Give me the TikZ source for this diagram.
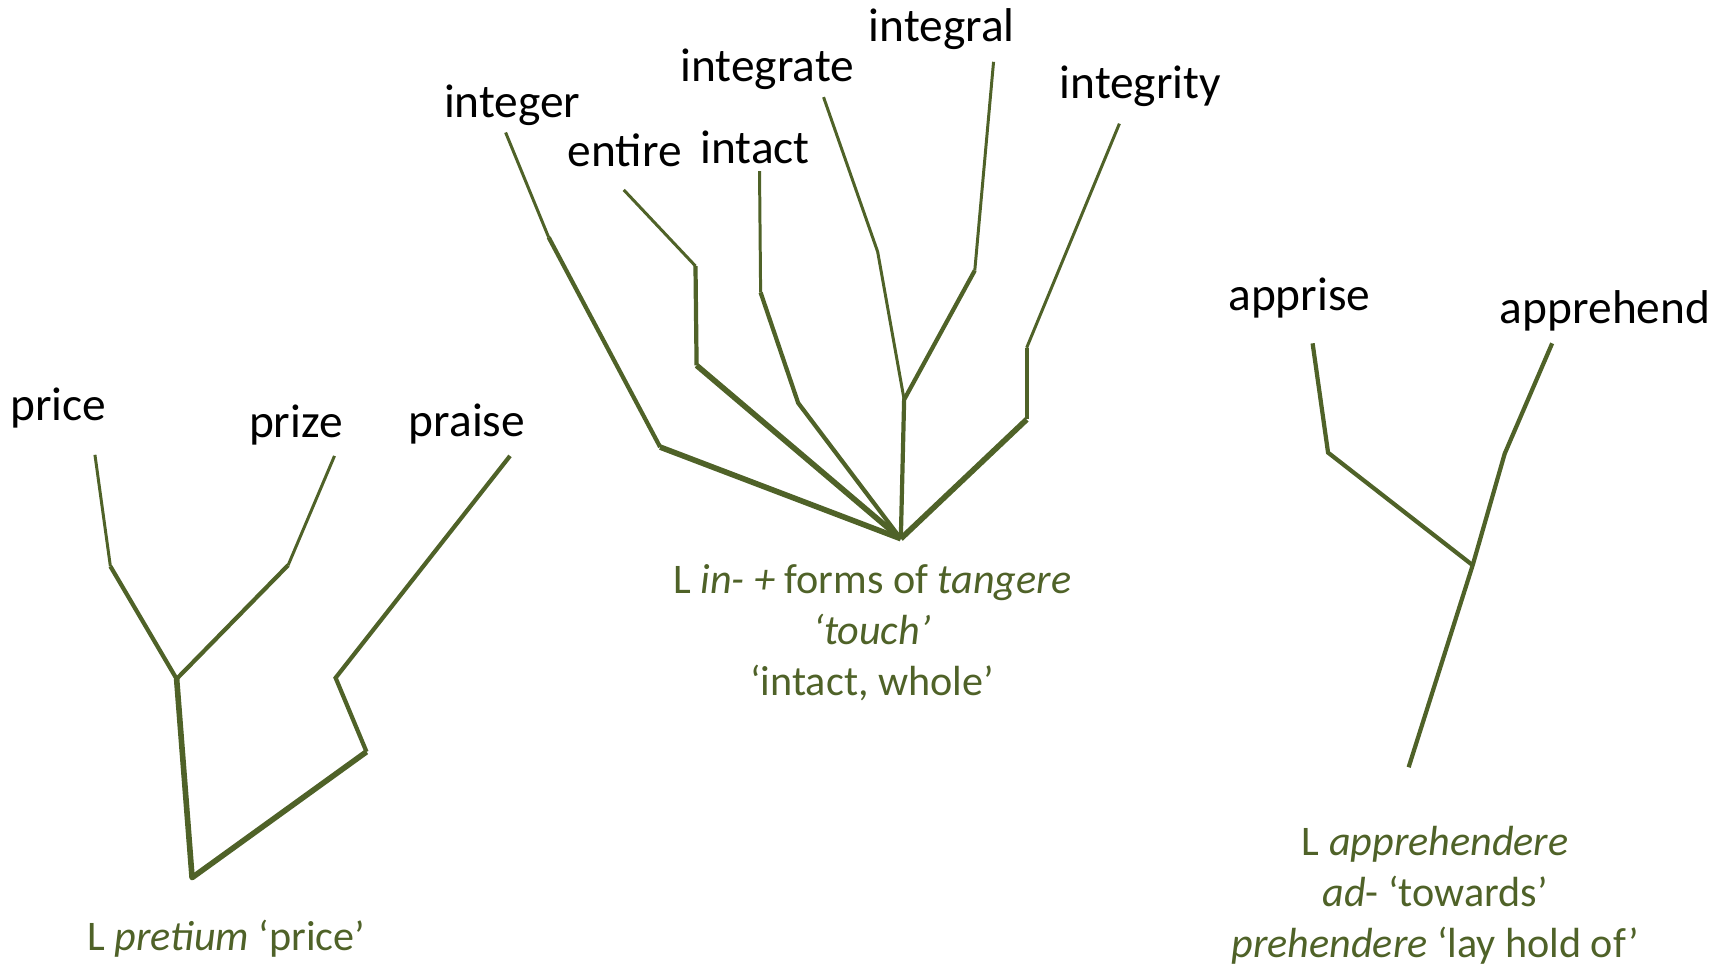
\documentclass[tikz,border=0pt]{standalone}
\usepackage{fontspec}
\setmainfont{Carlito}
\usetikzlibrary{positioning}
\definecolor{olv}{HTML}{4F6228}
\tikzset{
  word/.style={font=\fontsize{13.5}{16}\selectfont, inner sep=0pt, anchor=base},
  etym/.style={font=\fontsize{12}{14.5}\selectfont, text=olv, align=center, inner sep=0pt},
  twig/.style={olv, line width=0.85pt},
  branch/.style={olv, line width=1.2pt},
  trunk/.style={olv, line width=1.6pt, line join=round},
}

\begin{document}
\begin{tikzpicture}[x=0.01104cm, y=-0.01104cm]
 \useasboundingbox (0,0) rectangle (1568,876);
 % L pretium
 \node[word] (price) at (53,381) {price};
 \node[word] (prize) at (268,396) {prize};
 \node[word] (praise) at (423,395) {praise};
 \coordinate (p1) at (86,412); \coordinate (p2) at (100,513);
 \coordinate (q1) at (303,413); \coordinate (q2) at (261,512);
 \coordinate (s1) at (462,413); \coordinate (s2) at (304,614); \coordinate (s3) at (332,681);
 \coordinate (pj) at (160,615); \coordinate (pr) at (174,795);
 \draw[twig] (p1)--(p2); \draw[branch] (p2)--(pj);
 \draw[twig] (q1)--(q2); \draw[branch] (q2)--(pj);
 \draw[trunk] (pj)--(pr)--(s3);
 \draw[branch] (s3)--(s2)--(s1);
 \node[etym] (pretium) at (205,850) {L \textit{pretium} `price'};

 % L in- + tangere
 \node[word] (integer) at (464,106) {integer};
 \node[word] (entire) at (566,151) {entire};
 \node[word] (intact) at (684,148) {intact};
 \node[word] (integrate) at (695,74) {integrate};
 \node[word] (integral) at (853,38) {integral};
 \node[word] (integrity) at (1033,89) {integrity};
 \coordinate (m0) at (816,488); \coordinate (mj) at (819,362);
 \coordinate (a1) at (458,120); \coordinate (a2) at (497,215); \coordinate (a3) at (598,405);
 \coordinate (b1) at (565,172); \coordinate (b2) at (630,241); \coordinate (b3) at (631,331);
 \coordinate (c1) at (688,155); \coordinate (c2) at (689,265); \coordinate (c3) at (723,365);
 \coordinate (d1) at (746,88); \coordinate (d2) at (795,228);
 \coordinate (e1) at (900,56); \coordinate (e2) at (883,245);
 \coordinate (f1) at (1014,112); \coordinate (f2) at (930,315); \coordinate (f3) at (930,380);
 \draw[twig] (a1)--(a2); \draw[branch] (a2)--(a3); \draw[trunk] (a3)--(m0);
 \draw[twig] (b1)--(b2); \draw[branch] (b2)--(b3); \draw[trunk] (b3)--(m0);
 \draw[twig] (c1)--(c2); \draw[branch] (c2)--(c3)--(m0);
 \draw[twig] (d1)--(d2)--(mj);
 \draw[twig] (e1)--(e2); \draw[branch] (e2)--(mj)--(m0);
 \draw[twig] (f1)--(f2); \draw[branch] (f2)--(f3); \draw[trunk] (f3)--(m0);
 \node[etym] (tangere) at (790,573) {L \textit{in- +} forms of \textit{tangere}\\ \textit{`touch'}\\ `intact, whole'};

 % L apprehendere
 \node[word] (apprise) at (1177,281) {apprise};
 \node[word] (apprehend) at (1454,293) {apprehend};
 \coordinate (g1) at (1189,311); \coordinate (g2) at (1203,410);
 \coordinate (h1) at (1406,311); \coordinate (h2) at (1363,411);
 \coordinate (rj) at (1334,512); \coordinate (r0) at (1276,695);
 \draw[branch] (g1)--(g2)--(rj);
 \draw[branch] (h1)--(h2)--(rj)--(r0);
 \node[etym] (apprehendere) at (1300,811) {L \textit{apprehendere}\\ \textit{ad}- `towards'\\ \textit{prehendere} `lay hold of'};
\end{tikzpicture}
\end{document}
